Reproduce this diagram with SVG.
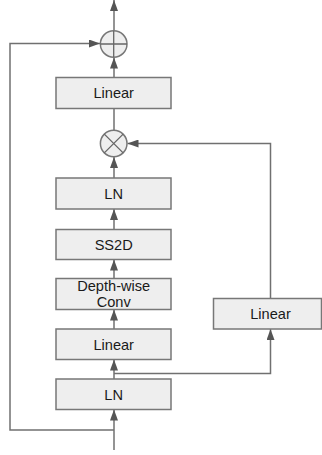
<svg xmlns="http://www.w3.org/2000/svg" width="322" height="455" viewBox="0 0 322 455">
<style>
.box{fill:#eeeeee;stroke:#777777;stroke-width:1.5}
.op{fill:#eeeeee;stroke:#777777;stroke-width:1.5}
.sym{stroke:#666666;stroke-width:1.3;fill:none}
.ln{fill:none;stroke:#707070;stroke-width:1.5}
text{font-family:"Liberation Sans",Arial,sans-serif;font-size:14.6px;fill:#1a1a1a;text-anchor:middle}
</style>
<defs>
<marker id="ah" viewBox="0 0 11 8" refX="11" refY="4" markerWidth="11" markerHeight="8" markerUnits="userSpaceOnUse" orient="auto">
<path d="M0,0 L11,4 L0,8 Z" fill="#555555"/>
</marker>
</defs>
<g id="connectors">
<path class="ln" d="M114,450 V409.5" marker-end="url(#ah)"/>
<path class="ln" d="M114,430 H10 V43.5 H100" marker-end="url(#ah)"/>
<path class="ln" d="M114,379 V359.5" marker-end="url(#ah)"/>
<path class="ln" d="M114,373.5 H270.5 V329" marker-end="url(#ah)"/>
<path class="ln" d="M270.5,298.5 V143.5 H127.5" marker-end="url(#ah)"/>
<path class="ln" d="M114,329 V309.5" marker-end="url(#ah)"/>
<path class="ln" d="M114,278.5 V259.5" marker-end="url(#ah)"/>
<path class="ln" d="M114,229.5 V209" marker-end="url(#ah)"/>
<path class="ln" d="M114,178 V157" marker-end="url(#ah)"/>
<path class="ln" d="M114,130 V108.5"/>
<path class="ln" d="M114,77 V57.5" marker-end="url(#ah)"/>
<path class="ln" d="M114,30.5 V0" marker-end="url(#ah)"/>
</g>
<g id="ln1"><rect class="box" x="56" y="379" width="115" height="30.5"/><text x="113.7" y="399.5">LN</text></g>
<g id="linear1"><rect class="box" x="56" y="329" width="115" height="30.5"/><text x="113.7" y="349.5">Linear</text></g>
<g id="dwconv"><rect class="box" x="56" y="278.5" width="115" height="31"/><text x="113.7" y="290.5">Depth-wise</text><text x="113.7" y="307">Conv</text></g>
<g id="ss2d"><rect class="box" x="56" y="229.5" width="115" height="30"/><text x="113.7" y="249.5">SS2D</text></g>
<g id="ln2"><rect class="box" x="56" y="178" width="115" height="31"/><text x="113.7" y="198.5">LN</text></g>
<g id="linear3"><rect class="box" x="213.5" y="298.5" width="108" height="30.5"/><text x="270.5" y="319">Linear</text></g>
<g id="mul"><circle class="op" cx="113.7" cy="143.5" r="13.3"/><path class="sym" d="M104.3,134.1 L123.1,152.9 M123.1,134.1 L104.3,152.9"/></g>
<g id="linear2"><rect class="box" x="56" y="77.5" width="115" height="31"/><text x="113.7" y="98.3">Linear</text></g>
<g id="add"><circle class="op" cx="113.7" cy="44" r="13.3"/><path class="sym" d="M100.4,44 H127 M113.7,30.7 V57.3"/></g>
</svg>
